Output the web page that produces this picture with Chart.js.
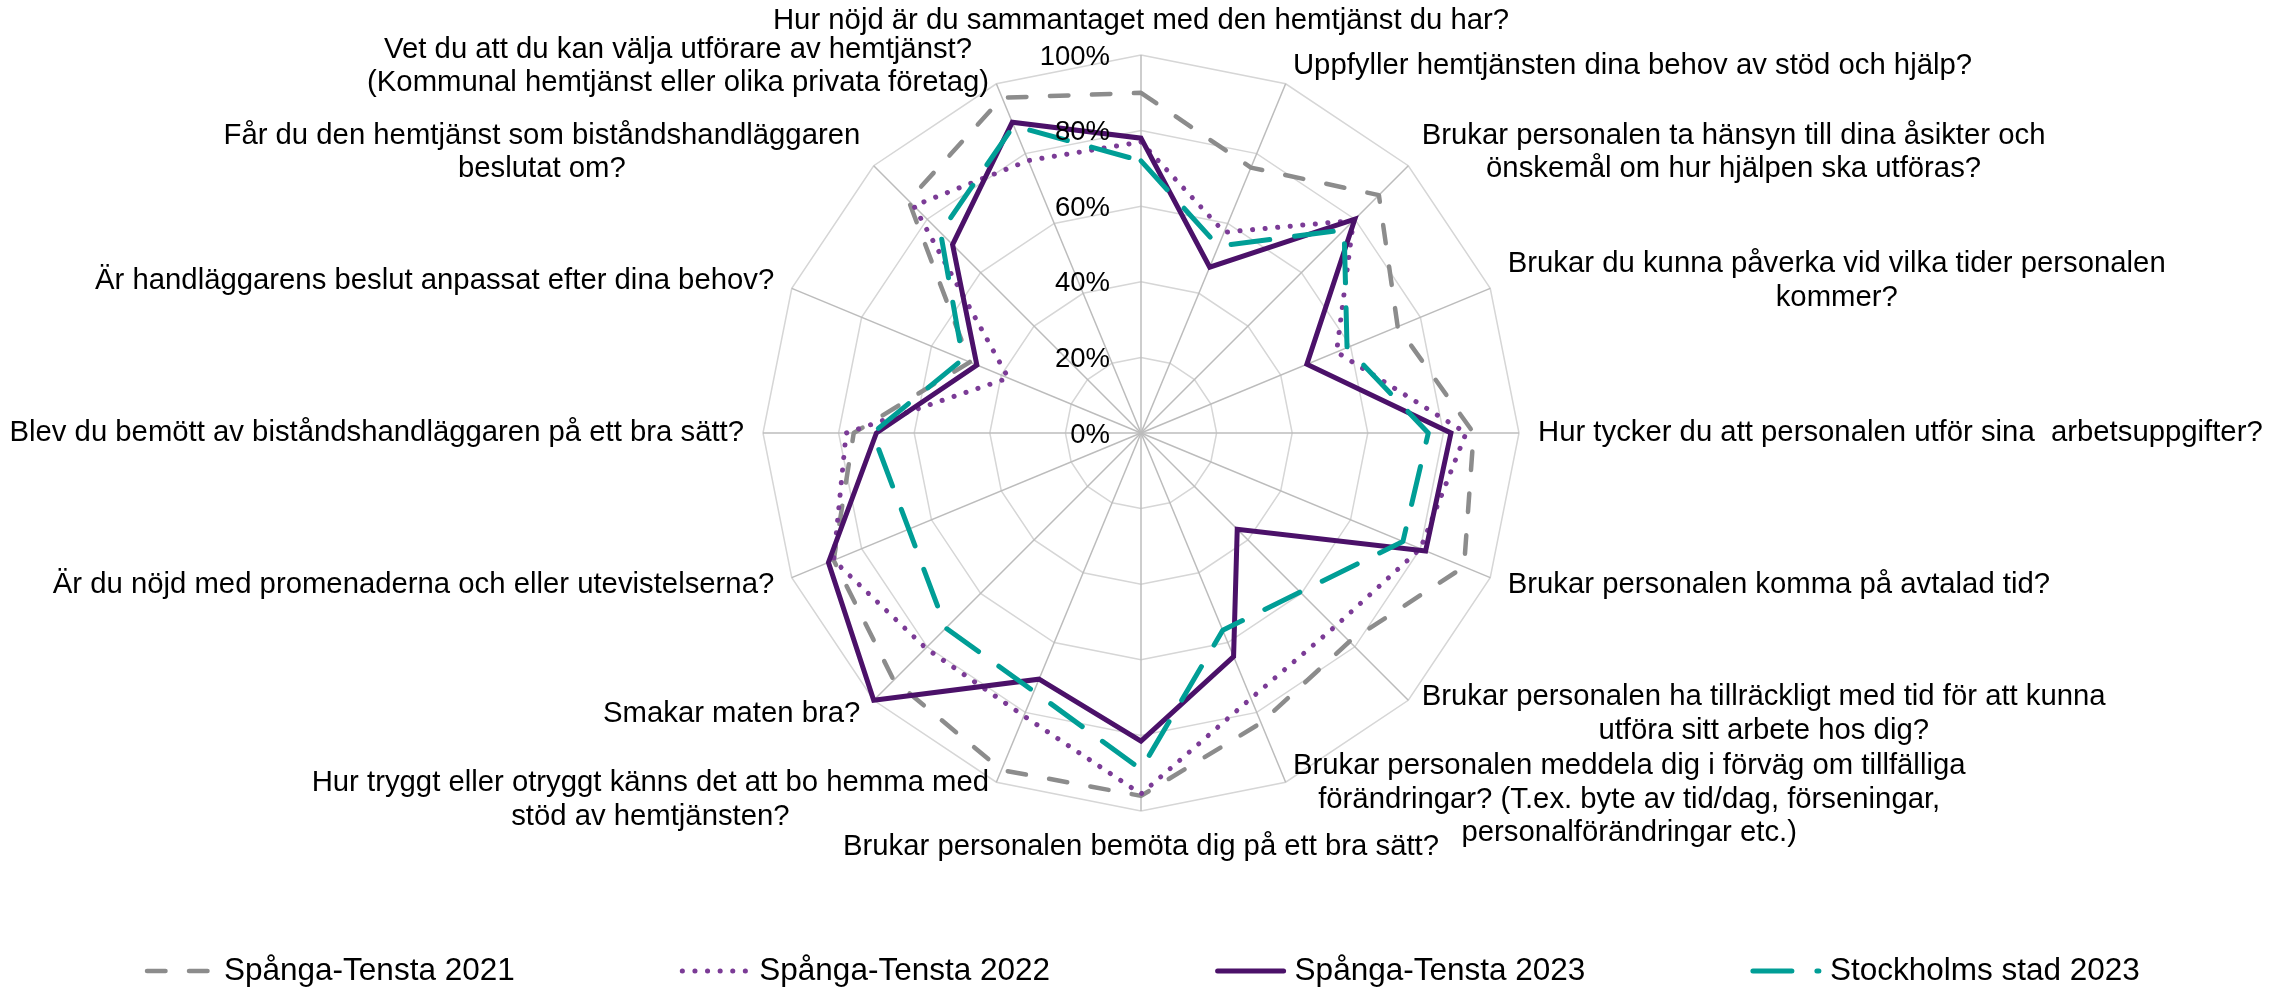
<!DOCTYPE html>
<html>
<head>
<meta charset="utf-8">
<script src="https://cdn.jsdelivr.net/npm/chart.js@4"></script>
<style>
html,body{margin:0;padding:0;background:#fff;}
#wrap{width:2292px;height:990px;}
</style>
</head>
<body>
<div id="wrap"><canvas id="c" width="2292" height="990"></canvas></div>
<script>
// ---- data ----
const categories = [
  "Hur nöjd är du sammantaget med den hemtjänst du har?",
  "Uppfyller hemtjänsten dina behov av stöd och hjälp?",
  ["Brukar personalen ta hänsyn till dina åsikter och", "önskemål om hur hjälpen ska utföras?"],
  ["Brukar du kunna påverka vid vilka tider personalen", "kommer?"],
  "Hur tycker du att personalen utför sina  arbetsuppgifter?",
  "Brukar personalen komma på avtalad tid?",
  ["Brukar personalen ha tillräckligt med tid för att kunna", "utföra sitt arbete hos dig?"],
  ["Brukar personalen meddela dig i förväg om tillfälliga", "förändringar? (T.ex. byte av tid/dag, förseningar,", "personalförändringar etc.)"],
  "Brukar personalen bemöta dig på ett bra sätt?",
  ["Hur tryggt eller otryggt känns det att bo hemma med", "stöd av hemtjänsten?"],
  "Smakar maten bra?",
  "Är du nöjd med promenaderna och eller utevistelserna?",
  "Blev du bemött av biståndshandläggaren på ett bra sätt?",
  "Är handläggarens beslut anpassat efter dina behov?",
  ["Får du den hemtjänst som biståndshandläggaren", "beslutat om?"],
  ["Vet du att du kan välja utförare av hemtjänst?", "(Kommunal hemtjänst eller olika privata företag)"]
];
const seriesNames = ["Spånga-Tensta 2021", "Spånga-Tensta 2022", "Spånga-Tensta 2023", "Stockholms stad 2023"];
const spangaTensta2021 = [90, 76, 89, 73.5, 88, 92.5, 78, 83, 96, 96.5, 92.5, 88, 76, 49, 87, 96];
const spangaTensta2022 = [77, 57.5, 79.5, 56, 86, 80, 72.5, 76, 95.5, 81, 80.5, 88, 78, 38, 85, 78];
const spangaTensta2023 = [78, 47.5, 80, 47.5, 82, 81.5, 36, 64, 81.5, 70.5, 100, 89.5, 70, 47, 70.5, 89];
const stockholmStad2023 = [72, 53.5, 76, 59, 76, 75, 59.5, 56.5, 89, 74, 73, 66.5, 71, 51, 75, 88];
const tickValues = [0, 20, 40, 60, 80, 100];

const FONT = "'Liberation Sans', Arial, sans-serif";

// point labels drawn Excel-style (centered multi-line blocks), tick labels and legend
const labelPlugin = {
  id: 'excelLabels',
  afterDatasetsDraw(chart) {
    const scale = chart.scales.r;
    const ctx = chart.ctx;
    ctx.save();
    // tick labels
    ctx.font = "27.5px " + FONT;
    ctx.fillStyle = '#000';
    ctx.textAlign = 'right';
    ctx.textBaseline = 'middle';
    scale.ticks.forEach(t => {
      const d = scale.getDistanceFromCenterForValue(t.value);
      ctx.fillText(t.value + '%', scale.xCenter - 31, scale.yCenter - d + 2);
    });
    // point labels
    ctx.font = "29.3px " + FONT;
    const LH = 33.5;
    const n = chart.data.labels.length;
    chart.data.labels.forEach((lab, i) => {
      const lines = Array.isArray(lab) ? lab : [lab];
      const p = scale.getPointPosition(i, scale.drawingArea + 19);
      const a = i * 2 * Math.PI / n;
      const s = Math.sin(a), c = Math.cos(a);
      const W = Math.max(...lines.map(l => ctx.measureText(l).width));
      let cx, cy;
      const H = lines.length * LH;
      if (Math.abs(s) < 1e-6) {
        cx = p.x;
        cy = c > 0 ? p.y - H / 2 + 2 : p.y + H / 2;
      } else {
        cx = s > 0 ? p.x + W / 2 : p.x - W / 2;
        cy = p.y;
      }
      ctx.textAlign = 'center';
      lines.forEach((l, k) => {
        ctx.fillText(l, cx, cy + (k - (lines.length - 1) / 2) * LH);
      });
    });
    // legend
    const y = 971;
    ctx.font = "31.5px " + FONT;
    ctx.textAlign = 'left';
    chart.data.datasets.forEach((ds, i) => {
      const x0 = 145 + i * 535.3;
      ctx.save();
      ctx.strokeStyle = ds.borderColor;
      ctx.lineWidth = ds.borderWidth;
      ctx.lineCap = 'round';
      ctx.setLineDash(ds.borderDash || []);
      ctx.beginPath();
      ctx.moveTo(x0 + 2, y);
      ctx.lineTo(x0 + 68, y);
      ctx.stroke();
      ctx.restore();
      ctx.fillStyle = '#000';
      ctx.fillText(ds.label, x0 + 79, y);
    });
    ctx.restore();
  }
};

const ctx = document.getElementById('c').getContext('2d');
new Chart(ctx, {
  type: 'radar',
  data: {
    labels: categories,
    datasets: [
      { label: seriesNames[0], data: spangaTensta2021, borderColor: '#8c8c8c', borderWidth: 4.5,
        borderDash: [18.5, 23.5], borderCapStyle: 'round', borderJoinStyle: 'round', fill: false, order: 4 },
      { label: seriesNames[1], data: spangaTensta2022, borderColor: '#7b3b96', borderWidth: 5,
        borderDash: [0.1, 12.5], borderCapStyle: 'round', borderJoinStyle: 'round', fill: false, order: 3 },
      { label: seriesNames[2], data: spangaTensta2023, borderColor: '#4b1169', borderWidth: 5,
        borderDash: [], borderCapStyle: 'butt', borderJoinStyle: 'miter', fill: false, order: 2 },
      { label: seriesNames[3], data: stockholmStad2023, borderColor: '#009e96', borderWidth: 5,
        borderDash: [39, 25], borderCapStyle: 'round', borderJoinStyle: 'round', fill: false, order: 1 }
    ]
  },
  options: {
    responsive: false,
    animation: false,
    devicePixelRatio: 1,
    layout: { padding: { top: 55, bottom: 179, left: 0, right: 10 } },
    elements: { line: { tension: 0 }, point: { radius: 0, hoverRadius: 0 } },
    plugins: { legend: { display: false }, tooltip: { enabled: false } },
    scales: {
      r: {
        min: 0, max: 100,
        afterBuildTicks(scale) { scale.ticks = tickValues.map(v => ({ value: v })); },
        ticks: { display: false, stepSize: 20 },
        grid: { color: '#d6d6d6', lineWidth: 1.5, circular: false },
        angleLines: { color: '#bcbcbc', lineWidth: 1.5 },
        pointLabels: { display: false }
      }
    }
  },
  plugins: [labelPlugin]
});
</script>
</body>
</html>
